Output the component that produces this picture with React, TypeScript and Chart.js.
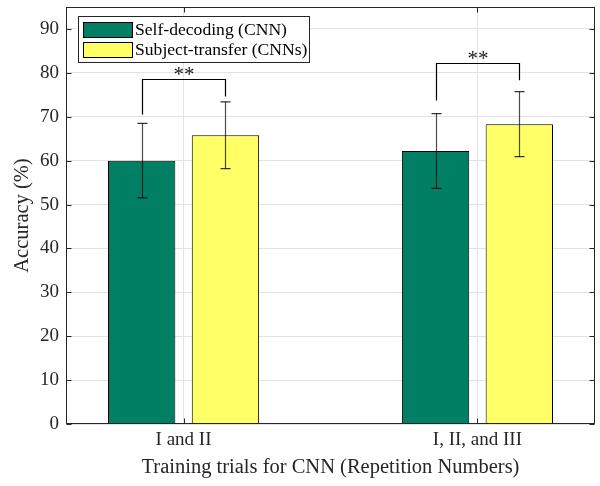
import React, { useEffect, useRef } from "react";
import { Chart, registerables } from "chart.js";

Chart.register(...registerables);

const categories = ["I and II", "I, II, and III"];
const seriesNames = ["Self-decoding (CNN)", "Subject-transfer (CNNs)"];
const selfDecoding = [60.0, 62.2];
const selfDecodingErr = [8.5, 8.5];
const subjectTransfer = [65.8, 68.3];
const subjectTransferErr = [7.6, 7.4];
const bracketTop = [78.6, 82.2];
const bracketLeftEnd = [70.5, 73.7];
const bracketRightEnd = [74.6, 78.3];
const significance = ["**", "**"];
const yTicks = [0, 10, 20, 30, 40, 50, 60, 70, 80, 90];
const xTitle = "Training trials for CNN (Repetition Numbers)";
const yTitle = "Accuracy (%)";

const GREEN = "#007f65";
const YELLOW = "#ffff66";
const AXIS = "#262626";
const GRID = "#e3e3e3";
const FONT = "'Liberation Serif', 'Times New Roman', serif";

const errors = [selfDecodingErr, subjectTransferErr];

const overlayPlugin = {
  id: "overlay",
  afterDatasetsDraw(chart: any) {
    const { ctx, chartArea, scales } = chart;
    const { left, right, top, bottom } = chartArea;
    const x = scales.x;
    const y = scales.y;
    ctx.save();
    // error bars
    chart.data.datasets.forEach((ds: any, i: number) => {
      const meta = chart.getDatasetMeta(i);
      meta.data.forEach((bar: any, j: number) => {
        const v = ds.data[j].y;
        const e = errors[i][j];
        const px = Math.round(bar.x) + 0.5;
        const y1 = y.getPixelForValue(v + e);
        const y2 = y.getPixelForValue(v - e);
        ctx.strokeStyle = "rgba(0,0,0,0.7)";
        ctx.lineWidth = 1.2;
        ctx.beginPath();
        ctx.moveTo(px, y1);
        ctx.lineTo(px, y2);
        ctx.stroke();
        ctx.strokeStyle = "rgba(0,0,0,0.8)";
        ctx.beginPath();
        ctx.moveTo(px - 5, y1);
        ctx.lineTo(px + 5, y1);
        ctx.moveTo(px - 5, y2);
        ctx.lineTo(px + 5, y2);
        ctx.stroke();
      });
    });
    // significance brackets
    const m0 = chart.getDatasetMeta(0);
    const m1 = chart.getDatasetMeta(1);
    categories.forEach((_, j) => {
      const xl = Math.round(m0.data[j].x) + 0.5;
      const xr = Math.round(m1.data[j].x) + 0.5;
      const yt = Math.round(y.getPixelForValue(bracketTop[j])) + 0.5;
      const yl = y.getPixelForValue(bracketLeftEnd[j]);
      const yr = y.getPixelForValue(bracketRightEnd[j]);
      ctx.strokeStyle = "#000";
      ctx.lineWidth = 1.2;
      ctx.beginPath();
      ctx.moveTo(xl, yl);
      ctx.lineTo(xl, yt);
      ctx.lineTo(xr, yt);
      ctx.lineTo(xr, yr);
      ctx.stroke();
      ctx.fillStyle = "#1a1a1a";
      ctx.font = `21px ${FONT}`;
      ctx.textAlign = "center";
      ctx.textBaseline = "alphabetic";
      ctx.fillText(significance[j], (xl + xr) / 2, yt + 1.5);
    });
    // frame
    const L = Math.round(left) + 0.5;
    const R = Math.round(right) - 0.5;
    const T = Math.round(top) + 0.5;
    const B = Math.round(bottom) - 0.5;
    ctx.strokeStyle = AXIS;
    ctx.lineWidth = 1;
    ctx.strokeRect(L, T, R - L, B - T);
    // inward ticks
    ctx.beginPath();
    yTicks.forEach((v) => {
      const py = Math.round(y.getPixelForValue(v)) + 0.5;
      ctx.moveTo(L, py);
      ctx.lineTo(L + 5, py);
      ctx.moveTo(R, py);
      ctx.lineTo(R - 5, py);
    });
    categories.forEach((_, j) => {
      const px = Math.round(x.getPixelForValue(j + 1)) + 0.5;
      ctx.moveTo(px, B);
      ctx.lineTo(px, B - 5);
      ctx.moveTo(px, T);
      ctx.lineTo(px, T + 5);
    });
    ctx.stroke();
    ctx.restore();
  },
  afterDraw(chart: any) {
    const { ctx } = chart;
    ctx.save();
    // legend box
    const bx = 78.5, by = 16.5, bw = 231, bh = 46;
    ctx.fillStyle = "#fff";
    ctx.fillRect(bx, by, bw, bh);
    ctx.strokeStyle = AXIS;
    ctx.lineWidth = 1;
    ctx.strokeRect(bx, by, bw, bh);
    const rows = [22, 42];
    chart.data.datasets.forEach((ds: any, i: number) => {
      const ry = rows[i];
      ctx.fillStyle = ds.backgroundColor;
      ctx.fillRect(83.5, ry + 0.5, 49, 15);
      ctx.strokeStyle = "#000";
      ctx.strokeRect(83.5, ry + 0.5, 49, 15);
      ctx.fillStyle = "#000";
      ctx.font = `17.6px ${FONT}`;
      ctx.textAlign = "left";
      ctx.textBaseline = "middle";
      ctx.fillText(ds.label, 135, ry + 8.5);
    });
    ctx.restore();
  },
};

export default function App() {
  const ref = useRef<HTMLCanvasElement>(null);
  useEffect(() => {
    if (!ref.current) return;
    const chart = new Chart(ref.current, {
      type: "bar",
      data: {
        datasets: [
          {
            label: seriesNames[0],
            data: selfDecoding.map((v, i) => ({ x: i + 1, y: v })),
            backgroundColor: GREEN,
            borderColor: "#000",
            borderWidth: 1,
          },
          {
            label: seriesNames[1],
            data: subjectTransfer.map((v, i) => ({ x: i + 1, y: v })),
            backgroundColor: YELLOW,
            borderColor: "#000",
            borderWidth: 1,
          },
        ],
      },
      options: {
        responsive: false,
        animation: false,
        categoryPercentage: 0.57,
        barPercentage: 0.804,
        layout: { padding: { left: 0, right: 5, top: 7, bottom: 0 } },
        plugins: {
          legend: { display: false },
          tooltip: { enabled: false },
        },
        scales: {
          x: {
            type: "linear",
            min: 0.6,
            max: 2.4,
            offset: false,
            grid: { offset: false, color: GRID, drawTicks: false, lineWidth: 1 },
            border: { display: false },
            afterBuildTicks: (s: any) => {
              s.ticks = categories.map((_, i) => ({ value: i + 1 }));
            },
            afterFit: (s: any) => {
              s.height = 62;
              s.paddingLeft = 0;
              s.paddingRight = 0;
            },
            ticks: {
              autoSkip: false,
              maxRotation: 0,
              padding: 5,
              color: AXIS,
              font: { family: FONT, size: 19 },
              callback: (v: any) => categories[Math.round(v) - 1] ?? "",
            },
            title: {
              display: true,
              text: xTitle,
              color: AXIS,
              font: { family: FONT, size: 20.5 },
              padding: { top: 0, bottom: 6.5 },
            },
          },
          y: {
            min: 0,
            max: 95,
            grid: { color: GRID, drawTicks: false, lineWidth: 1 },
            border: { display: false },
            afterBuildTicks: (s: any) => {
              s.ticks = yTicks.map((v) => ({ value: v }));
            },
            afterFit: (s: any) => {
              s.width = 66;
              s.paddingTop = 0;
              s.paddingBottom = 0;
            },
            ticks: {
              padding: 7,
              color: AXIS,
              font: { family: FONT, size: 19 },
            },
            title: {
              display: true,
              text: yTitle,
              color: AXIS,
              font: { family: FONT, size: 20.5 },
              padding: { top: 10.5, bottom: 0 },
            },
          },
        },
      },
      plugins: [overlayPlugin],
    });
    return () => chart.destroy();
  }, []);
  return (
    <div style={{ position: "absolute", left: 0, top: 0, width: 600, height: 486, background: "#fff" }}>
      <canvas ref={ref} width={600} height={486} style={{ width: 600, height: 486 }} />
    </div>
  );
}
